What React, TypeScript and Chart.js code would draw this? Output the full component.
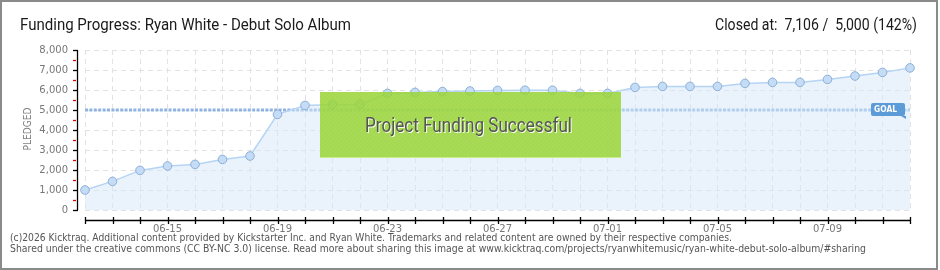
import React, { useEffect, useRef } from 'react';
import { Chart, registerables } from 'chart.js';

Chart.register(...registerables);

const DATES = [
  '06-12', '06-13', '06-14', '06-15', '06-16', '06-17', '06-18', '06-19', '06-20', '06-21',
  '06-22', '06-23', '06-24', '06-25', '06-26', '06-27', '06-28', '06-29', '06-30', '07-01',
  '07-02', '07-03', '07-04', '07-05', '07-06', '07-07', '07-08', '07-09', '07-10', '07-11',
  '07-12',
];

const PLEDGED = [
  1000, 1430, 1980, 2200, 2280, 2530, 2700, 4780, 5230, 5280,
  5280, 5830, 5880, 5920, 5950, 5980, 5990, 5990, 5830, 5830,
  6130, 6180, 6180, 6180, 6330, 6380, 6380, 6530, 6700, 6880,
  7106,
];

const GOAL = 5000;
const Y_MAX = 8000;
const Y_STEP = 1000;
const Y_MINOR_STEP = 500;
const X_LABEL_EVERY = 4;
const X_LABEL_START = 3;

const TITLE = 'Funding Progress: Ryan White - Debut Solo Album';
const CLOSED_TEXT = 'Closed at:  7,106 /  5,000 (142%)';
const BANNER_TEXT = 'Project Funding Successful';
const GOAL_TEXT = 'GOAL';
const Y_TITLE = 'PLEDGED';
const FOOTER_LINES = [
  '(c)2026 Kicktraq. Additional content provided by Kickstarter Inc. and Ryan White. Trademarks and related content are owned by their respective companies.',
  'Shared under the creative commons (CC BY-NC 3.0) license. Read more about sharing this image at www.kicktraq.com/projects/ryanwhitemusic/ryan-white-debut-solo-album/#sharing',
];

const decorPlugin = {
  id: 'decor',
  beforeDraw(chart: any) {
    const { ctx, width, height } = chart;
    ctx.save();
    ctx.fillStyle = '#ffffff';
    ctx.fillRect(0, 0, width, height);
    ctx.restore();
  },
  beforeDatasetsDraw(chart: any) {
    const { ctx, chartArea } = chart;
    const y = chart.scales.y.getPixelForValue(GOAL);
    ctx.save();
    ctx.strokeStyle = '#8fb4e1';
    ctx.lineWidth = 3;
    ctx.setLineDash([3, 1.4]);
    ctx.beginPath();
    ctx.moveTo(chartArea.left, y);
    ctx.lineTo(chartArea.right, y);
    ctx.stroke();
    ctx.restore();
  },
  afterDatasetsDraw(chart: any) {
    const { ctx } = chart;
    const bx = 320, by = 92, bw = 301, bh = 66;
    ctx.save();
    ctx.fillStyle = 'rgba(152,212,52,0.86)';
    ctx.fillRect(bx, by, bw, bh);
    ctx.beginPath();
    ctx.rect(bx, by, bw, bh);
    ctx.clip();
    ctx.strokeStyle = 'rgba(255,255,255,0.07)';
    ctx.lineWidth = 1;
    for (let s = -bh; s < bw; s += 4) {
      ctx.beginPath();
      ctx.moveTo(bx + s, by + bh);
      ctx.lineTo(bx + s + bh, by);
      ctx.stroke();
    }
    ctx.restore();
    ctx.save();
    ctx.fillStyle = 'rgba(205,238,140,0.9)';
    ctx.fillRect(bx, by + bh - 1, bw, 1);
    ctx.font = '20px Roboto';
    ctx.textAlign = 'center';
    ctx.textBaseline = 'alphabetic';
    ctx.shadowColor = 'rgba(255,255,255,0.9)';
    ctx.shadowOffsetX = 1;
    ctx.shadowOffsetY = 1;
    ctx.shadowBlur = 0;
    ctx.fillStyle = '#555555';
    ctx.fillText(BANNER_TEXT, bx + bw / 2 - 2, 132, 207);
    ctx.restore();
  },
  afterDraw(chart: any) {
    const { ctx, chartArea, width, height } = chart;
    const xs = chart.scales.x;
    const ys = chart.scales.y;
    ctx.save();

    // GOAL label
    const gy = ys.getPixelForValue(GOAL);
    ctx.fillStyle = '#5b9bd8';
    ctx.beginPath();
    ctx.roundRect(871, gy - 7, 34, 13, 2);
    ctx.fill();
    ctx.beginPath();
    ctx.moveTo(901, gy + 6);
    ctx.lineTo(906, gy + 6);
    ctx.lineTo(906, gy + 9);
    ctx.closePath();
    ctx.fill();
    ctx.fillStyle = '#ffffff';
    ctx.font = 'bold 9px "DejaVu Sans"';
    ctx.textAlign = 'left';
    ctx.textBaseline = 'middle';
    ctx.fillText(GOAL_TEXT, 874, gy, 23);

    // y axis
    const axX = 77.5;
    ctx.strokeStyle = '#000000';
    ctx.lineWidth = 1.3;
    ctx.beginPath();
    ctx.moveTo(axX, ys.getPixelForValue(Y_MAX));
    ctx.lineTo(axX, ys.getPixelForValue(0));
    ctx.stroke();
    for (let v = 0; v <= Y_MAX; v += Y_MINOR_STEP) {
      const py = Math.round(ys.getPixelForValue(v)) + 0.5;
      ctx.beginPath();
      if (v % Y_STEP === 0) {
        ctx.strokeStyle = '#000000';
        ctx.moveTo(73, py);
        ctx.lineTo(78, py);
      } else {
        ctx.strokeStyle = '#e00000';
        ctx.moveTo(73, py);
        ctx.lineTo(76, py);
      }
      ctx.stroke();
    }

    // x axis
    const axY = 220.5;
    ctx.strokeStyle = '#000000';
    ctx.beginPath();
    ctx.moveTo(chartArea.left, axY);
    ctx.lineTo(chartArea.right, axY);
    ctx.stroke();
    for (let i = 0; i < DATES.length; i++) {
      const px = Math.round(xs.getPixelForValue(i)) + 0.5;
      ctx.beginPath();
      ctx.moveTo(px, axY - 3.5);
      ctx.lineTo(px, axY + 3.5);
      ctx.stroke();
    }

    // y title
    ctx.save();
    ctx.translate(28.5, 129);
    ctx.rotate(-Math.PI / 2);
    ctx.fillStyle = '#808080';
    ctx.font = '10px "DejaVu Sans"';
    ctx.textAlign = 'center';
    ctx.textBaseline = 'middle';
    ctx.fillText(Y_TITLE, 0, 0, 43);
    ctx.restore();

    // titles
    ctx.fillStyle = '#1a1a1a';
    ctx.font = '17px Roboto';
    ctx.textBaseline = 'alphabetic';
    ctx.textAlign = 'left';
    ctx.fillText(TITLE, 20, 30, 331);
    ctx.textAlign = 'right';
    ctx.fillText(CLOSED_TEXT, 917, 30, 202);

    // footer
    ctx.fillStyle = '#555555';
    ctx.font = '10px "DejaVu Sans"';
    ctx.textAlign = 'left';
    ctx.fillText(FOOTER_LINES[0], 10, 241, 722);
    ctx.fillText(FOOTER_LINES[1], 10, 252, 856);

    // frame
    ctx.strokeStyle = '#8a8a8a';
    ctx.lineWidth = 2;
    ctx.strokeRect(1, 1, width - 4, height - 2);
    ctx.restore();
  },
};

export default function App() {
  const canvasRef = useRef<HTMLCanvasElement>(null);

  useEffect(() => {
    document.body.style.margin = '0';
    const canvas = canvasRef.current;
    if (!canvas) return;
    const tickFont = { family: '"DejaVu Sans"', size: 10 };
    const chart = new Chart(canvas, {
      type: 'line',
      data: {
        labels: DATES,
        datasets: [
          {
            data: PLEDGED,
            fill: 'origin',
            backgroundColor: 'rgba(214,231,250,0.5)',
            borderColor: '#b5d4f4',
            borderWidth: 1.5,
            tension: 0,
            pointRadius: 4.3,
            pointBackgroundColor: '#c4dcf6',
            pointBorderColor: '#8fb0d6',
            pointBorderWidth: 1,
            clip: false as any,
          },
        ],
      },
      options: {
        animation: false,
        responsive: false,
        maintainAspectRatio: false,
        layout: { padding: { left: 0, right: 30, top: 50, bottom: 0 } },
        plugins: {
          legend: { display: false },
          tooltip: { enabled: false },
          title: { display: false },
        },
        scales: {
          x: {
            type: 'category',
            offset: false,
            grid: { color: '#e2e2e2', drawTicks: false, lineWidth: 1 },
            border: { display: false, dash: [5, 4] },
            ticks: {
              autoSkip: false,
              maxRotation: 0,
              minRotation: 0,
              padding: 13,
              color: '#777777',
              font: tickFont,
              callback: (_v: any, i: number) =>
                i % X_LABEL_EVERY === X_LABEL_START ? DATES[i] : '',
            },
            afterFit: (s: any) => {
              s.height = 60;
            },
          },
          y: {
            min: 0,
            max: Y_MAX,
            grid: { color: '#e2e2e2', drawTicks: false, lineWidth: 1 },
            border: { display: false, dash: [5, 4] },
            ticks: {
              stepSize: Y_STEP,
              padding: 17,
              color: '#777777',
              font: tickFont,
              callback: (v: any) => Number(v).toLocaleString('en-US'),
            },
            afterFit: (s: any) => {
              s.width = 85;
            },
          },
        },
      },
      plugins: [decorPlugin],
    } as any);
    return () => chart.destroy();
  }, []);

  return (
    <div style={{ width: 940, height: 270 }}>
      <canvas ref={canvasRef} width={940} height={270} style={{ display: 'block' }} />
    </div>
  );
}
